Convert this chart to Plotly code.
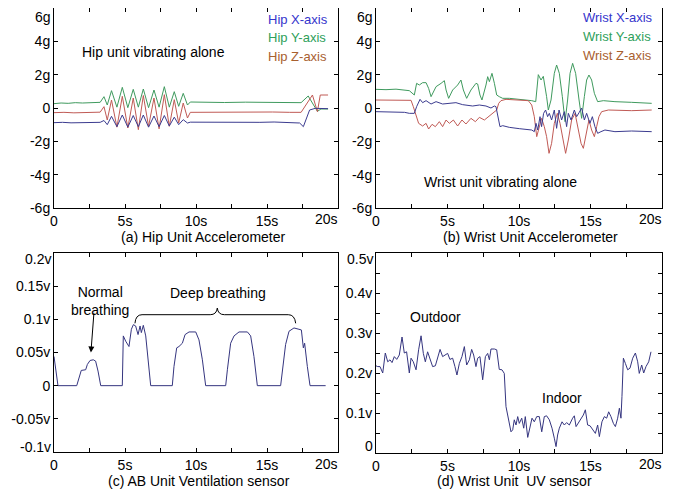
import plotly.graph_objects as go

# ---------------- data ----------------
# (a) Hip unit accelerometer (g)
hip_t_x = [0, 0.6, 1.2, 1.8, 2.4, 3.0, 3.25, 3.52, 3.75, 4.05, 4.43, 4.81, 5.2, 5.58, 5.94, 6.29, 6.66, 7.04, 7.40,
           7.77, 8.12, 8.47, 8.78, 9.10, 9.40, 9.60, 10.5, 11.5, 12.5, 13.5, 14.5, 15.5, 16.5, 17.3, 17.56, 18.0, 18.4, 19.3]
hip_x = [-0.88, -0.86, -0.89, -0.87, -0.88, -0.86, -0.86, -0.75, -1.0, -0.5, -1.12, -0.42, -1.15, -0.45, -1.12, -0.42,
         -1.15, -0.48, -1.12, -0.45, -1.08, -0.55, -1.0, -0.7, -0.9, -0.85, -0.86, -0.84, -0.87, -0.85, -0.86, -0.84,
         -0.87, -0.9, -1.12, -0.12, -0.02, -0.04]
hip_t_y = [0, 0.5, 1.0, 1.5, 2.0, 2.5, 3.0, 3.25, 3.52, 3.75, 4.05, 4.43, 4.81, 5.2, 5.58, 5.94, 6.29, 6.66, 7.04, 7.40,
           7.77, 8.12, 8.47, 8.78, 9.10, 9.40, 9.60, 10.5, 12.0, 13.5, 15.0, 16.5, 17.4, 17.9, 18.55, 18.8, 19.3]
hip_y = [0.26, 0.30, 0.28, 0.32, 0.30, 0.33, 0.32, 0.34, 0.68, 0.18, 1.04, 0.05, 1.24, 0.02, 1.12, 0.05, 1.14, 0.02,
         1.08, 0.05, 1.28, 0.05, 0.98, 0.10, 0.88, 0.18, 0.36, 0.34, 0.33, 0.35, 0.34, 0.33, 0.32, 0.72, -0.20, -0.06,
         -0.06]
hip_t_z = [0, 0.7, 1.4, 2.1, 2.8, 3.25, 3.52, 3.75, 4.05, 4.43, 4.81, 5.2, 5.58, 5.94, 6.29, 6.66, 7.04, 7.40, 7.77,
           8.12, 8.47, 8.78, 9.10, 9.40, 9.60, 10.6, 11.8, 13.0, 14.2, 15.4, 16.6, 17.4, 18.2, 18.55, 18.75, 19.3]
hip_z = [-0.28, -0.26, -0.29, -0.27, -0.28, -0.25, 0.08, -0.72, 0.48, -1.15, 0.70, -1.20, 0.60, -1.30, 0.75, -1.10,
         0.60, -1.25, 0.80, -1.10, 0.50, -0.90, 0.30, -0.60, -0.26, -0.25, -0.27, -0.25, -0.26, -0.24, -0.26, -0.26,
         0.78, -0.22, 0.78, 0.78]

# (b) Wrist unit accelerometer (g)
wrist_t_x = [0, 1.0, 2.0, 2.33, 2.68, 2.84, 3.08, 3.26, 3.50, 3.85, 4.20, 4.66, 5.13, 5.59, 6.06, 6.76, 7.23, 7.69,
             8.04, 8.28, 8.39, 8.53, 8.67, 8.86, 9.32, 10.02, 10.89, 11.07, 11.19, 11.31, 11.47, 11.58, 11.72, 11.86,
             12.00, 12.12, 12.28, 12.47, 12.63, 12.80, 12.98, 13.17, 13.33, 13.45, 13.64, 13.87, 14.03, 14.20, 14.38,
             14.57, 14.73, 14.96, 15.13, 15.31, 15.50, 15.73, 16.01, 16.71, 17.88, 19.28]
wrist_x = [-0.22, -0.24, -0.26, -0.32, -0.32, 0.08, 0.52, 0.32, 0.44, 0.24, 0.38, 0.24, 0.28, 0.32, 0.20, 0.12, 0.18,
           0.12, 0.00, 0.12, 0.08, -0.52, -1.12, -1.06, -1.16, -1.24, -1.32, -1.42, -0.92, -1.32, -0.52, -1.12, -0.32,
           -0.12, -0.52, -0.32, -0.72, -0.12, -1.22, -0.12, -0.72, -0.22, -1.12, -0.32, -0.72, -0.12, -0.52, -0.28,
           0.00, -0.72, -0.32, -0.92, -0.52, -1.12, -1.52, -1.42, -1.32, -1.42, -1.38, -1.42]
wrist_t_y = [0, 0.7, 1.4, 2.0, 2.33, 2.68, 2.84, 3.03, 3.26, 3.50, 3.68, 3.85, 4.01, 4.20, 4.55, 4.78, 4.90, 5.08,
             5.36, 5.71, 5.94, 6.11, 6.34, 6.64, 6.99, 7.11, 7.27, 7.41, 7.69, 7.81, 7.93, 8.11, 8.28, 8.44, 8.62,
             8.86, 9.32, 10.02, 10.65, 10.89, 11.17, 11.35, 11.54, 11.70, 11.93, 12.05, 12.24, 12.47, 12.63, 12.82,
             13.03, 13.22, 13.40, 13.57, 13.75, 13.96, 14.20, 14.38, 14.57, 14.73, 14.89, 15.08, 15.27, 15.50, 15.90,
             16.71, 17.88, 19.28]
wrist_y = [1.12, 1.10, 1.13, 1.10, 1.04, 0.78, 1.48, 1.38, 1.52, 1.52, 1.18, 0.68, 0.98, 1.28, 1.48, 1.64, 1.08, 0.58,
           1.08, 1.38, 1.68, 1.08, 0.58, 1.08, 1.48, 1.44, 0.78, 0.48, 1.38, 1.88, 1.58, 2.08, 1.48, 0.78, 0.68, 0.58,
           0.58, 0.52, 0.48, 0.44, 0.38, 2.00, 1.68, 1.90, 0.68, -0.12, 0.48, 2.08, 2.58, 2.08, 0.68, -0.82, 0.48,
           2.08, 2.68, 2.08, 0.48, -0.62, 0.68, 1.68, 1.98, 1.68, 0.88, 0.38, 0.44, 0.38, 0.34, 0.28]
wrist_t_z = [0, 1.0, 2.0, 2.45, 2.61, 2.80, 2.98, 3.26, 3.50, 3.68, 3.92, 4.15, 4.43, 4.66, 4.90, 5.13, 5.41, 5.71,
             6.01, 6.29, 6.64, 6.95, 7.23, 7.58, 7.93, 8.28, 8.44, 8.58, 8.74, 9.09, 9.79, 10.65, 10.89, 11.07, 11.24,
             11.40, 11.58, 11.77, 11.93, 12.10, 12.28, 12.47, 12.68, 12.87, 13.10, 13.26, 13.45, 13.68, 13.92, 14.10,
             14.34, 14.50, 14.66, 14.89, 15.08, 15.27, 15.43, 15.59, 15.78, 16.25, 17.88, 19.28]
wrist_z = [0.48, 0.46, 0.47, 0.46, 0.08, -0.52, -0.92, -1.08, -0.92, -1.26, -0.98, -1.12, -0.82, -1.12, -0.72, -0.92,
           -0.72, -1.08, -0.72, -0.96, -0.62, -0.82, -0.56, -0.72, -0.48, -0.28, -0.12, 0.28, 0.44, 0.52, 0.48, 0.44,
           0.18, -0.52, -1.72, -1.12, -0.62, -1.12, -1.72, -2.72, -2.12, -0.92, -0.32, -0.92, -2.12, -2.72, -1.92,
           -0.72, -0.32, -1.12, -2.12, -2.42, -1.72, -0.72, -1.32, -1.72, -1.12, -0.52, -0.22, -0.12, -0.16, -0.12]

# (c) AB unit ventilation sensor (v)
vent_t = [0.00, 0.12, 0.28, 1.60, 1.76, 1.92, 2.23, 2.35, 2.54, 2.77, 2.93, 3.10, 3.29, 4.81, 4.88, 5.05, 5.28, 5.45,
          5.59, 5.75, 5.92, 6.06, 6.15, 6.29, 6.46, 6.62, 6.81, 8.33, 8.45, 8.64, 8.80, 9.04, 9.23, 9.51, 9.98, 10.21,
          10.45, 10.68, 12.09, 12.21, 12.44, 12.68, 13.03, 13.62, 13.85, 14.08, 14.32, 15.96, 16.13, 16.31, 16.55,
          16.90, 17.25, 17.42, 17.56, 17.65, 17.84, 18.03, 19.13]
vent_v = [0.044, 0.024, 0.0, 0.0, 0.012, 0.023, 0.024, 0.032, 0.038, 0.039, 0.037, 0.022, 0.0, 0.0, 0.075, 0.067,
          0.059, 0.085, 0.092, 0.090, 0.077, 0.090, 0.080, 0.091, 0.075, 0.044, 0.0, 0.0, 0.029, 0.057, 0.059, 0.064,
          0.077, 0.081, 0.081, 0.069, 0.039, 0.0, 0.0, 0.024, 0.064, 0.075, 0.081, 0.081, 0.075, 0.044, 0.0, 0.0,
          0.029, 0.062, 0.082, 0.087, 0.085, 0.084, 0.057, 0.064, 0.029, 0.0, 0.0]

# (d) Wrist unit UV sensor (v)
uv_t = [0.0, 0.12, 0.28, 0.47, 0.65, 0.82, 0.98, 1.12, 1.28, 1.45, 1.63, 1.82, 1.98, 2.14, 2.33, 2.45, 2.61, 2.80,
        2.98, 3.15, 3.31, 3.45, 3.61, 3.78, 3.96, 4.15, 4.31, 4.48, 4.66, 4.83, 5.01, 5.17, 5.36, 5.52, 5.66, 5.83,
        6.01, 6.18, 6.34, 6.53, 6.69, 6.83, 6.99, 7.11, 7.27, 7.46, 7.65, 7.81, 7.93, 8.04, 8.28, 8.44, 8.62, 8.81,
        8.97, 9.09, 9.21, 9.32, 9.44, 9.56, 9.67, 9.79, 9.91, 10.02, 10.19, 10.33, 10.44, 10.61, 10.77, 10.91, 11.07,
        11.24, 11.42, 11.59, 11.77, 11.93, 12.12, 12.31, 12.47, 12.59, 12.70, 12.82, 13.01, 13.17, 13.33, 13.52,
        13.75, 13.87, 13.99, 14.17, 14.34, 14.50, 14.64, 14.80, 14.97, 15.15, 15.34, 15.50, 15.62, 15.80, 15.97,
        16.13, 16.27, 16.43, 16.60, 16.74, 16.90, 17.02, 17.13, 17.20, 17.30, 17.44, 17.60, 17.76, 17.95, 18.14,
        18.30, 18.41, 18.58, 18.72, 18.88, 19.07, 19.23]
uv_v = [0.218, 0.216, 0.216, 0.200, 0.250, 0.228, 0.233, 0.226, 0.241, 0.234, 0.245, 0.290, 0.250, 0.253, 0.200,
        0.237, 0.228, 0.208, 0.258, 0.293, 0.249, 0.228, 0.253, 0.237, 0.216, 0.218, 0.241, 0.259, 0.241, 0.245,
        0.249, 0.234, 0.237, 0.216, 0.195, 0.224, 0.241, 0.266, 0.220, 0.233, 0.259, 0.245, 0.216, 0.237, 0.241,
        0.183, 0.241, 0.249, 0.233, 0.260, 0.260, 0.258, 0.209, 0.208, 0.199, 0.116, 0.095, 0.074, 0.053, 0.058,
        0.083, 0.070, 0.091, 0.074, 0.087, 0.062, 0.091, 0.039, 0.070, 0.087, 0.078, 0.091, 0.091, 0.053, 0.091,
        0.093, 0.083, 0.062, 0.037, 0.016, 0.045, 0.062, 0.078, 0.070, 0.076, 0.070, 0.087, 0.093, 0.066, 0.076,
        0.083, 0.095, 0.108, 0.070, 0.068, 0.058, 0.049, 0.070, 0.041, 0.078, 0.091, 0.087, 0.103, 0.091, 0.074,
        0.066, 0.087, 0.112, 0.087, 0.141, 0.237, 0.224, 0.208, 0.212, 0.237, 0.250, 0.228, 0.199, 0.220, 0.200,
        0.216, 0.228, 0.253]

# tick labels (labels at the outer ends are drawn inset, as in the original figure)
x_tickvals = [0, 2.5, 5, 7.5, 10, 12.5, 15, 17.5, 20]
x_ticktext = ["0", "", "5s", "", "10s", "", "15s", "", ""]
x_end_label = "20s"
g_tickvals = [-6, -4, -2, 0, 2, 4, 6]
g_ticktext = ["-6g", "-4g", "-2g", "0", "2g", "4g", ""]
g_top_label = "6g"
vent_tickvals = [-0.1, -0.05, 0, 0.05, 0.1, 0.15, 0.2]
vent_ticktext = ["", "-0.05v", "0", "0.05v", "0.1v", "0.15v", ""]
vent_top_label, vent_bottom_label = "0.2v", "-0.1v"
uv_tickvals = [0, 0.05, 0.1, 0.15, 0.2, 0.25, 0.3, 0.35, 0.4, 0.45, 0.5]
uv_ticktext = ["", "", "0.1v", "", "0.2v", "", "0.3v", "", "0.4v", "", ""]
uv_top_label, uv_bottom_label = "0.5v", "0"

# ---------------- style ----------------
FONT = "Liberation Sans Narrow, Arial Narrow, Liberation Sans, Arial, sans-serif"
C_X, C_Y, C_Z = "#3b3b8f", "#3f9a5e", "#c05a55"
T_X, T_Y, T_Z = "#3535cc", "#2ea05a", "#a8602f"
C_SENS = "#35357f"
OFF = 8                      # page body margin of the browser
W, H = 673 - OFF, 493 - OFF  # figure size so that the page fits the window

def px_x(a, b):
    return [(a - OFF) / W, (b - OFF) / W]

def px_y(top, bottom):
    return [1 - (bottom - OFF) / H, 1 - (top - OFF) / H]

def pxx(v):
    return (v - OFF) / W

def pxy(v):
    return 1 - (v - OFF) / H

fig = go.Figure()
lw = 1
fig.add_trace(go.Scatter(x=hip_t_y, y=hip_y, mode="lines", line=dict(color=C_Y, width=lw), xaxis="x", yaxis="y"))
fig.add_trace(go.Scatter(x=hip_t_z, y=hip_z, mode="lines", line=dict(color=C_Z, width=lw), xaxis="x", yaxis="y"))
fig.add_trace(go.Scatter(x=hip_t_x, y=hip_x, mode="lines", line=dict(color=C_X, width=lw), xaxis="x", yaxis="y"))
fig.add_trace(go.Scatter(x=wrist_t_y, y=wrist_y, mode="lines", line=dict(color=C_Y, width=lw), xaxis="x2", yaxis="y2"))
fig.add_trace(go.Scatter(x=wrist_t_z, y=wrist_z, mode="lines", line=dict(color=C_Z, width=lw), xaxis="x2", yaxis="y2"))
fig.add_trace(go.Scatter(x=wrist_t_x, y=wrist_x, mode="lines", line=dict(color=C_X, width=lw), xaxis="x2", yaxis="y2"))
fig.add_trace(go.Scatter(x=vent_t, y=vent_v, mode="lines", line=dict(color=C_SENS, width=lw), xaxis="x3", yaxis="y3"))
fig.add_trace(go.Scatter(x=uv_t, y=uv_v, mode="lines", line=dict(color=C_SENS, width=lw), xaxis="x4", yaxis="y4"))

axis_common = dict(showline=True, linecolor="black", linewidth=1, mirror="ticks", ticks="inside", ticklen=4,
                   tickcolor="black", tickwidth=1, showgrid=False, zeroline=False, automargin=False,
                   ticklabeloverflow="allow", tickfont=dict(family=FONT, size=14, color="black"))

def xa(domain, anchor):
    return dict(axis_common, domain=domain, anchor=anchor, range=[0, 20], tickmode="array",
                tickvals=x_tickvals, ticktext=x_ticktext)

def ya(domain, anchor, rng, tv, tt):
    return dict(axis_common, domain=domain, anchor=anchor, range=rng, tickmode="array", tickvals=tv, ticktext=tt)

fig.update_layout(
    width=W, height=H, margin=dict(l=0, r=0, t=0, b=0, autoexpand=False), showlegend=False,
    paper_bgcolor="white", plot_bgcolor="white",
    font=dict(family=FONT, size=14, color="black"),
    xaxis=xa(px_x(54, 338), "y"),
    yaxis=ya(px_y(8, 208), "x", [-6, 6], g_tickvals, g_ticktext),
    xaxis2=xa(px_x(376, 662), "y2"),
    yaxis2=ya(px_y(8, 208), "x2", [-6, 6], g_tickvals, g_ticktext),
    xaxis3=xa(px_x(54, 338), "y3"),
    yaxis3=ya(px_y(253, 452), "x3", [-0.1, 0.2], vent_tickvals, vent_ticktext),
    xaxis4=xa(px_x(376, 662), "y4"),
    yaxis4=ya(px_y(253, 453), "x4", [0, 0.5], uv_tickvals, uv_ticktext),
)

def txt(x, y, s, xref, yref, color="black", xanchor="center", size=14, yanchor="middle"):
    fig.add_annotation(x=x, y=y, xref=xref, yref=yref, text=s, showarrow=False, xanchor=xanchor,
                       yanchor=yanchor, font=dict(family=FONT, size=size, color=color), borderpad=0)

# inset end labels of the axes
for left in (54, 376):
    txt(pxx(left - 2), pxy(8.5), g_top_label, "paper", "paper", xanchor="right", yanchor="top")
txt(pxx(52), pxy(259), vent_top_label, "paper", "paper", xanchor="right")
txt(pxx(52), pxy(447), vent_bottom_label, "paper", "paper", xanchor="right")
txt(pxx(374), pxy(259), uv_top_label, "paper", "paper", xanchor="right")
txt(pxx(374), pxy(446), uv_bottom_label, "paper", "paper", xanchor="right")
for right, yy in ((339, 219), (663, 219), (339, 464), (663, 464)):
    txt(pxx(right), pxy(yy), x_end_label, "paper", "paper", xanchor="right")

# panel (a)
txt(7.0, 3.35, "Hip unit vibrating alone", "x", "y")
txt(15.0, 5.34, "Hip X-axis", "x", "y", T_X, "left", 13)
txt(15.0, 4.26, "Hip Y-axis", "x", "y", T_Y, "left", 13)
txt(15.0, 3.12, "Hip Z-axis", "x", "y", T_Z, "left", 13)
# panel (b)
txt(14.4, 5.46, "Wrist X-axis", "x2", "y2", T_X, "left", 13)
txt(14.4, 4.32, "Wrist Y-axis", "x2", "y2", T_Y, "left", 13)
txt(14.4, 3.18, "Wrist Z-axis", "x2", "y2", T_Z, "left", 13)
txt(8.7, -4.44, "Wrist unit vibrating alone", "x2", "y2")
# panel (c)
txt(3.24, 0.128, "Normal<br>breathing", "x3", "y3")
txt(11.55, 0.14, "Deep breathing", "x3", "y3")
fig.add_annotation(x=2.6, y=0.05, ax=2.82, ay=0.112, xref="x3", yref="y3", axref="x3", ayref="y3",
                   text="", showarrow=True, arrowhead=2, arrowsize=1.2, arrowwidth=1, arrowcolor="black")
fig.add_shape(type="path", xref="x3", yref="y3", line=dict(color="black", width=1),
              path="M 5.7,0.094 Q 5.75,0.107 6.2,0.107 L 11.0,0.107 Q 11.45,0.107 11.5,0.117 "
                   "Q 11.55,0.107 12.0,0.107 L 16.5,0.107 Q 16.95,0.107 17.02,0.094")
# panel (d)
txt(4.13, 0.34, "Outdoor", "x4", "y4")
txt(13.0, 0.1375, "Indoor", "x4", "y4")

# captions (positions in window pixels)
def caption(cx, cy, s):
    txt(pxx(cx), pxy(cy), s, "paper", "paper", size=14)

caption(203, 237, "(a) Hip Unit Accelerometer")
caption(530, 237, "(b) Wrist Unit Accelerometer")
caption(199, 481, "(c) AB Unit Ventilation sensor")
caption(514, 481, "(d) Wrist Unit\u00a0 UV sensor")

fig.write_html("out.html")
